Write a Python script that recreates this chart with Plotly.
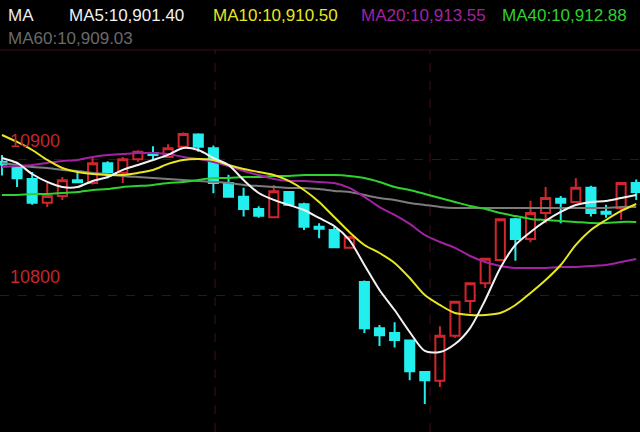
import plotly.graph_objects as go

# ---- data ----
bar_index = list(range(43))

open_ = [10898, 10893.5, 10885.5, 10868, 10873, 10884.5, 10882.5, 10897, 10890, 10900,
         10904.5, 10901.5, 10909, 10918, 10908, 10882.5, 10872.5, 10863.5, 10857.5, 10876,
         10867, 10850.5, 10848, 10835, 10810, 10776, 10772.5, 10767, 10744, 10737.5,
         10770.5, 10796, 10809, 10826, 10856, 10841.5, 10860.5, 10871, 10868.5, 10879,
         10861.5, 10864, 10882.5]
high = [10903, 10898, 10890.5, 10882.5, 10887, 10890.5, 10901.5, 10898.5, 10901.5, 10906.5,
        10909.5, 10911, 10919.5, 10919, 10910, 10888.5, 10879, 10865.5, 10881, 10876.5,
        10868, 10853, 10850.5, 10843, 10811, 10778.5, 10780.5, 10767.5, 10744.5, 10777.5,
        10795.5, 10809, 10827.5, 10856.5, 10857, 10869.5, 10879.5, 10873, 10886, 10880.5,
        10866.5, 10883, 10885]
low = [10888, 10879.5, 10866.5, 10865, 10870, 10882.5, 10881.5, 10886, 10882.5, 10898,
       10899.5, 10901, 10908, 10905.5, 10875, 10872, 10858, 10857, 10857, 10866,
       10848, 10842, 10835, 10834.5, 10772.5, 10763, 10762, 10738, 10720.5, 10733,
       10769, 10787, 10805.5, 10826, 10825.5, 10839, 10853, 10853, 10868, 10858,
       10857, 10855.5, 10870]
close = [10896, 10886, 10868, 10873, 10884.5, 10883, 10897, 10890.5, 10900, 10905.5,
         10903, 10908, 10918.5, 10909, 10882.5, 10872.5, 10863.5, 10858.5, 10876.5, 10866.5,
         10850.5, 10849, 10835.5, 10843, 10776, 10771, 10767.5, 10744.5, 10738, 10770.5,
         10795.5, 10809, 10827, 10856, 10841.5, 10860.5, 10871.5, 10868, 10879, 10860.5,
         10860, 10882.5, 10876]

ma5 = [10900.9, 10897.2, 10889.1, 10883.3, 10879.6, 10879.6, 10884.0, 10886.9, 10892.1, 10895.7,
       10899.4, 10903.1, 10908.2, 10906.7, 10900.9, 10895.7, 10884.7, 10875.2, 10870.1, 10866.4,
       10862.7, 10856.9, 10851.0, 10840.8, 10822.4, 10804.1, 10789.4, 10773.3, 10759.4, 10758.6,
       10764.5, 10776.2, 10796.8, 10820.2, 10837.1, 10846.6, 10854.7, 10861.3, 10866.4, 10868.6,
       10869.3, 10871.5, 10873.7]
ma10 = [10917.7, 10912.6, 10906.7, 10899.4, 10893.5, 10890.6, 10889.1, 10888.4, 10888.4, 10889.9,
        10892.1, 10896.5, 10899.4, 10900.1, 10899.4, 10895.7, 10892.8, 10890.6, 10888.4, 10884.0,
        10877.4, 10868.6, 10857.6, 10846.6, 10837.1, 10831.2, 10823.9, 10812.9, 10800.4, 10793.1,
        10787.2, 10785.8, 10785.8, 10787.2, 10793.1, 10801.9, 10811.4, 10822.4, 10837.1, 10848.1,
        10855.4, 10862.0, 10867.1]
ma20 = [10894.3, 10895.0, 10895.7, 10897.2, 10898.7, 10899.4, 10901.6, 10903.1, 10903.8, 10904.5,
        10904.5, 10903.8, 10901.6, 10900.1, 10897.9, 10895.0, 10891.3, 10888.4, 10885.5, 10884.0,
        10884.0, 10883.3, 10882.5, 10878.9, 10872.3, 10864.9, 10859.1, 10852.5, 10844.4, 10839.3,
        10834.9, 10829.0, 10824.6, 10821.7, 10820.2, 10820.2, 10820.2, 10821.0, 10821.0, 10821.7,
        10822.4, 10824.6, 10826.8]
ma40 = [10873.7, 10873.7, 10874.5, 10874.5, 10875.2, 10875.9, 10877.4, 10878.1, 10879.6, 10880.3,
        10881.1, 10882.5, 10883.3, 10884.7, 10886.2, 10886.2, 10886.9, 10886.9, 10887.7, 10887.7,
        10888.4, 10888.4, 10888.4, 10887.7, 10886.2, 10883.3, 10879.6, 10877.4, 10874.5, 10871.5,
        10868.6, 10865.7, 10863.5, 10860.5, 10858.3, 10856.2, 10855.4, 10854.7, 10854.0, 10853.2,
        10853.2, 10854.0, 10854.0]
ma60 = [10897.2, 10895.7, 10894.3, 10893.5, 10892.1, 10891.3, 10889.9, 10889.1, 10887.7, 10886.9,
        10886.2, 10885.5, 10884.7, 10884.0, 10883.3, 10882.5, 10881.1, 10880.3, 10879.6, 10878.9,
        10878.9, 10878.1, 10876.7, 10875.9, 10873.7, 10871.5, 10870.1, 10867.9, 10866.4, 10865.0,
        10864.2, 10864.2, 10864.2, 10864.2, 10864.2, 10864.2, 10864.2, 10864.2, 10864.2, 10864.2,
        10864.2, 10865.0, 10865.0]

tick_values = [10800, 10900]
tick_labels = ["10800", "10900"]

header_texts = ["MA", "MA5:10,901.40", "MA10:10,910.50", "MA20:10,913.55", "MA40:10,912.88", "MA60:10,909.03"]

# ---- styling ----
RED = "#d0262c"
CYAN = "#22eeee"
GRID = "#3d0f17"
C_MA5 = "#f2f2f2"
C_MA10 = "#e6e623"
C_MA20 = "#a322a3"
C_MA40 = "#2ed12e"
C_MA60 = "#7c7c7c"
FONT = "Liberation Sans, Arial, sans-serif"

fig = go.Figure()

fig.add_trace(go.Candlestick(
    x=bar_index, open=open_, high=high, low=low, close=close,
    increasing=dict(line=dict(color=RED, width=2), fillcolor="#000000"),
    decreasing=dict(line=dict(color=CYAN, width=2), fillcolor=CYAN),
    whiskerwidth=0, showlegend=False, hoverinfo="skip",
))

for vals, col in [(ma60, C_MA60), (ma40, C_MA40), (ma20, C_MA20), (ma10, C_MA10), (ma5, C_MA5)]:
    fig.add_trace(go.Scatter(
        x=bar_index, y=vals, mode="lines",
        line=dict(color=col, width=2, shape="spline", smoothing=0.8),
        showlegend=False, hoverinfo="skip",
    ))

# header annotations
header_colors = ["#eeeeee", C_MA5, C_MA10, C_MA20, C_MA40, "#6a6a6a"]
header_x = [6, 67, 211, 359, 500, 6]
header_y = [16, 16, 16, 16, 16, 38]
plot_h = 382
for txt, col, px, py in zip(header_texts, header_colors, header_x, header_y):
    fig.add_annotation(
        text=txt, xref="paper", yref="paper",
        x=px / 640, y=(432 - py) / plot_h,
        xanchor="left", yanchor="middle", showarrow=False,
        font=dict(color=col, size=17, family=FONT),
    )

# vertical dashed grid lines and top border
for gx in [14.11, 28.35]:
    fig.add_shape(type="line", xref="x", yref="paper", x0=gx, x1=gx, y0=0, y1=1,
                  line=dict(color=GRID, width=1, dash="dash"), layer="below")
fig.add_shape(type="line", xref="paper", yref="paper", x0=0, x1=1, y0=1, y1=1,
              line=dict(color=GRID, width=1), layer="below")

fig.update_layout(
    width=640, height=432,
    margin=dict(l=0, r=0, t=50, b=0),
    paper_bgcolor="#000000", plot_bgcolor="#000000",
    boxgap=0.14, showlegend=False, hovermode=False,
    xaxis=dict(range=[-0.13, 42.25], showgrid=False, zeroline=False, showticklabels=False,
               showline=False, rangeslider=dict(visible=False), fixedrange=True),
    yaxis=dict(range=[10700, 10980], tickvals=tick_values, ticktext=tick_labels,
               ticklabelposition="inside top", ticks="",
               tickfont=dict(color="#c4262c", size=18, family=FONT),
               showgrid=True, gridcolor=GRID, griddash="dash", gridwidth=1,
               zeroline=False, showline=False, fixedrange=True, ticklabelstandoff=7,
               ticklabelshift=-6),
)

fig.write_html("out.html", config={"displayModeBar": False},
               post_script="document.body.style.margin='0';document.body.style.background='#000';")
